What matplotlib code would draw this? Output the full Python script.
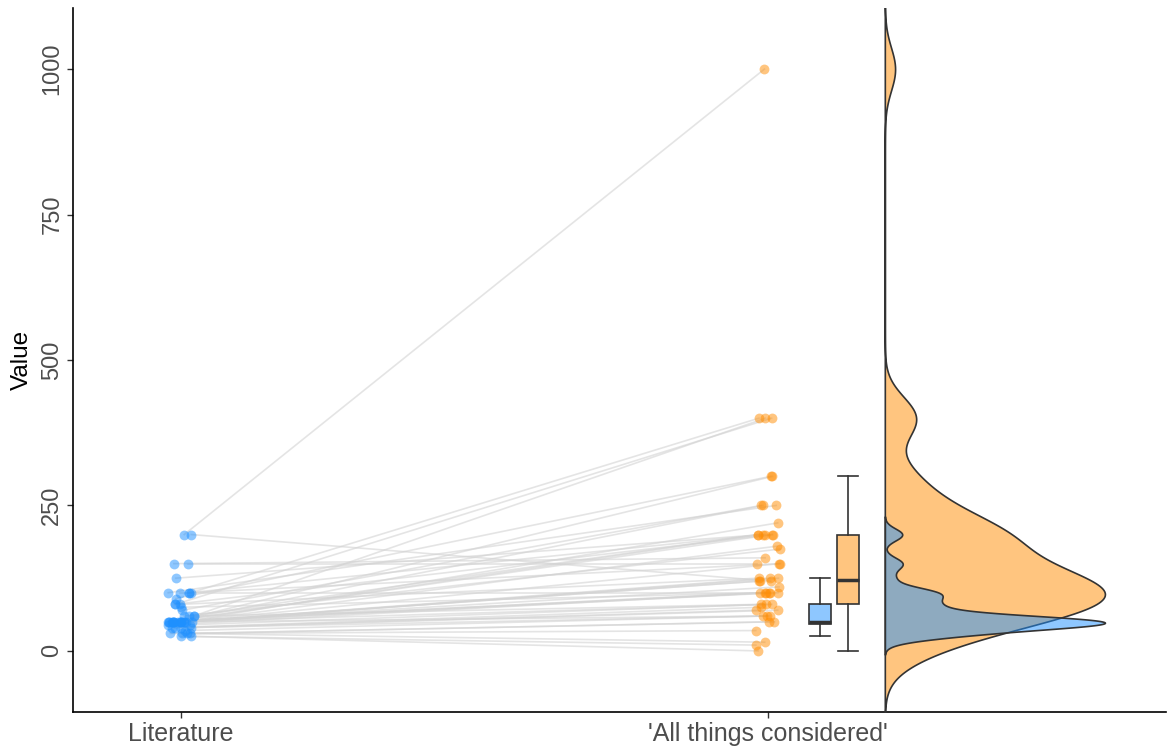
import numpy as np
import matplotlib
matplotlib.use("Agg")
import matplotlib.pyplot as plt
from matplotlib.colors import to_rgba

plt.rcParams['font.family'] = ['Liberation Sans', 'DejaVu Sans']

# paired values: Literature -> 'All things considered'
literature = [200, 200, 150, 150, 125, 100, 100, 100, 100, 100,
              90, 80, 80, 80, 75, 70, 60, 60, 60, 60,
              50, 50, 50, 50, 50, 50, 50, 50, 50, 50,
              50, 50, 50, 50, 50, 50, 50, 45, 45, 40,
              40, 40, 40, 30, 35, 30, 30, 30, 25, 25]
all_things = [1000, 120, 150, 160, 200, 400, 250, 200, 150, 100,
              300, 400, 200, 125, 100, 250, 400, 200, 175, 80,
              300, 250, 220, 200, 200, 180, 150, 125, 125, 120,
              120, 110, 100, 100, 100, 80, 60, 100, 80, 75,
              70, 70, 60, 50, 60, 50, 35, 15, 10, 0]
group_labels = ["Literature", "'All things considered'"]
y_ticks = [0, 250, 500, 750, 1000]

c_lit = "dodgerblue"
c_atc = "darkorange"
edge = "#333333"

lit = np.array(literature, dtype=float)
atc = np.array(all_things, dtype=float)


def nrd0(x):
    sd = np.std(x, ddof=1)
    iqr = np.subtract(*np.percentile(x, [75, 25]))
    lo = min(sd, iqr / 1.34)
    return 0.9 * lo * len(x) ** -0.2


def kde(x, n=512):
    bw = nrd0(x)
    grid = np.linspace(x.min() - 3 * bw, x.max() + 3 * bw, n)
    d = np.exp(-0.5 * ((grid[:, None] - x[None, :]) / bw) ** 2).sum(axis=1)
    return grid, d / d.max()


fig = plt.figure(figsize=(11.67, 7.49), dpi=100)
ax = fig.add_axes([73 / 1167, 37 / 749, (1166 - 73) / 1167, (712 - 8) / 749])

# jitter around each group
rng = np.random.default_rng(7)
jx1 = 1 + rng.uniform(-0.022, 0.022, len(lit))
jx2 = 2 + rng.uniform(-0.022, 0.022, len(atc))

# connecting lines
for i in range(len(lit)):
    ax.plot([jx1[i], jx2[i]], [lit[i], atc[i]], color="lightgray",
            alpha=0.6, lw=1.2, zorder=1)

ax.scatter(jx1, lit, s=50, color=c_lit, alpha=0.5, lw=0, zorder=2)
ax.scatter(jx2, atc, s=50, color=c_atc, alpha=0.5, lw=0, zorder=2)

# boxplots
for data, pos, col in [(lit, 2.089, c_lit), (atc, 2.136, c_atc)]:
    ax.boxplot([data], positions=[pos], widths=0.037, showfliers=False,
               patch_artist=True, whis=1.5, capwidths=[0.034], manage_ticks=False,
               boxprops=dict(facecolor=to_rgba(col, 0.5), edgecolor=edge, lw=1.2),
               whiskerprops=dict(color=edge, lw=1.2),
               capprops=dict(color=edge, lw=1.2),
               medianprops=dict(color=edge, lw=2.5), zorder=3)

# half violins (densities)
base = 2.199
width = 0.375
for data, col in [(atc, c_atc), (lit, c_lit)]:
    g, d = kde(data)
    ax.fill_betweenx(g, base, base + d * width, facecolor=to_rgba(col, 0.5),
                     edgecolor=edge, lw=1.2, zorder=3)

ax.set_xlim(1 - 108 / 587, 2 + (1166 - 768) / 587)
ax.set_ylim(-105, 1105)
ax.set_xticks([1, 2])
ax.set_xticklabels(group_labels)
ax.set_yticks(y_ticks)
ax.set_yticklabels([str(v) for v in y_ticks], rotation=90, va="center")
ax.tick_params(axis="x", labelsize=18, colors="#4D4D4D", length=4, width=1, pad=3)
ax.tick_params(axis="y", labelsize=17, colors="#4D4D4D", length=4, width=1, pad=3)
ax.tick_params(axis="both", color="#333333")
ax.set_ylabel("Value", fontsize=17.5, color="black", labelpad=6)

for s in ["top", "right"]:
    ax.spines[s].set_visible(False)
for s in ["left", "bottom"]:
    ax.spines[s].set_linewidth(1.2)
    ax.spines[s].set_color("black")

fig.savefig("out.png", dpi=100)
